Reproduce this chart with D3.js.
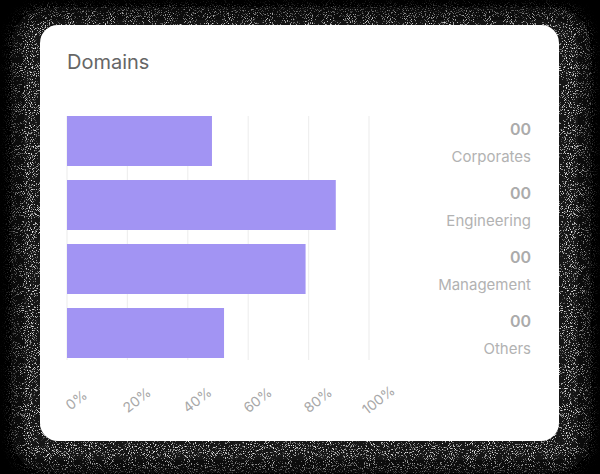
<!DOCTYPE html>
<html>
<head>
<meta charset="utf-8">
<script src="https://cdn.jsdelivr.net/npm/d3@7"></script>
<style>
  html, body { margin: 0; padding: 0; background: #000; }
  svg { display: block; }
  text { font-family: Inter, "Noto Sans", sans-serif; }
</style>
</head>
<body>
<div id="chart"></div>
<script>
const categories = ["Corporates", "Engineering", "Management", "Others"];
const values = [48, 89, 79, 52];
const counts = ["00", "00", "00", "00"];
const tickValues = [0, 20, 40, 60, 80, 100];
const title = "Domains";

const W = 600, H = 474;
const svg = d3.select("#chart").append("svg").attr("width", W).attr("height", H);
const defs = svg.append("defs");

// noisy shadow filter (decoration)
const f = defs.append("filter").attr("id", "grain")
  .attr("x", "-10%").attr("y", "-10%").attr("width", "120%").attr("height", "120%");
f.append("feGaussianBlur").attr("in", "SourceAlpha").attr("stdDeviation", 8).attr("result", "m");
f.append("feTurbulence").attr("type", "fractalNoise").attr("baseFrequency", 0.95)
  .attr("numOctaves", 2).attr("seed", 7).attr("result", "t");
f.append("feColorMatrix").attr("in", "t").attr("type", "matrix")
  .attr("values", "0 0 0 0 0.85  0 0 0 0 0.85  0 0 0 0 0.85  5 0 0 0 -2.9").attr("result", "speck");
f.append("feComposite").attr("in", "speck").attr("in2", "m").attr("operator", "in").attr("result", "sm");
f.append("feFlood").attr("flood-color", "#141414").attr("result", "fl");
f.append("feComposite").attr("in", "fl").attr("in2", "m").attr("operator", "in").attr("result", "base");
const fm = f.append("feMerge");
fm.append("feMergeNode").attr("in", "base");
fm.append("feMergeNode").attr("in", "sm");

svg.append("rect").attr("width", W).attr("height", H).attr("fill", "#000");
svg.append("rect").attr("x", 16).attr("y", 12).attr("width", 570).attr("height", 456)
  .attr("rx", 30).attr("fill", "#fff").attr("filter", "url(#grain)");

// card
svg.append("rect").attr("x", 40).attr("y", 25).attr("width", 519).attr("height", 416)
  .attr("rx", 18).attr("fill", "#fff");

svg.append("text").attr("x", 67).attr("y", 69)
  .attr("font-size", 20).attr("fill", "#666").text(title);

const x = d3.scaleLinear().domain([0, 100]).range([67, 369]);
const y = d3.scaleBand().domain(categories).range([116, 358]).paddingInner(0.21875).paddingOuter(0);

// gridlines
svg.append("g").selectAll("line").data(tickValues).join("line")
  .attr("x1", d => x(d)).attr("x2", d => x(d))
  .attr("y1", 116).attr("y2", 360)
  .attr("stroke", "#efefef").attr("stroke-width", 1.2);

// bars
svg.append("g").selectAll("rect").data(categories).join("rect")
  .attr("x", x(0))
  .attr("y", d => y(d))
  .attr("width", (d, i) => x(values[i]) - x(0))
  .attr("height", y.bandwidth())
  .attr("fill", "#a294f3");

// right labels
const lab = svg.append("g");
lab.selectAll("text.cnt").data(categories).join("text").attr("class", "cnt")
  .attr("x", 531).attr("y", d => y(d) + 19)
  .attr("text-anchor", "end").attr("font-size", 16).attr("font-weight", 600)
  .attr("fill", "#ababab").text((d, i) => counts[i]);
lab.selectAll("text.cat").data(categories).join("text").attr("class", "cat")
  .attr("x", 531).attr("y", d => y(d) + 46)
  .attr("text-anchor", "end").attr("font-size", 15)
  .attr("fill", "#b2b2b2").text(d => d);

// x axis
const axis = d3.axisBottom(x).tickValues(tickValues).tickFormat(d => d + "%").tickSize(0);
const ax = svg.append("g").attr("transform", "translate(0,400)").call(axis);
ax.select(".domain").remove();
ax.selectAll("text")
  .attr("y", 0).attr("dy", "0.35em")
  .attr("text-anchor", "middle")
  .attr("transform", "translate(9,0) rotate(-38)")
  .attr("font-size", 14).attr("fill", "#a8a8a8")
  .attr("font-family", "Inter, 'Noto Sans', sans-serif");
</script>
</body>
</html>
